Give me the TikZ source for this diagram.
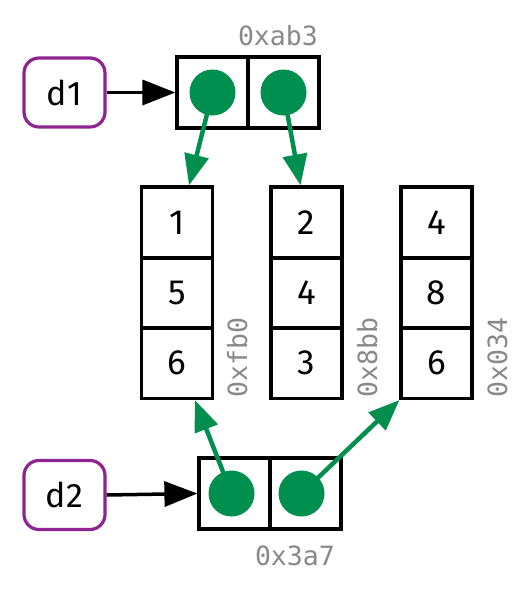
\documentclass[tikz,border=0pt]{standalone}
\usepackage{fontspec}
\setmainfont{Fira Sans}
\newfontfamily\monofont{DejaVu Sans Mono}
\usetikzlibrary{arrows.meta,calc}
\definecolor{grn}{RGB}{0,143,78}
\definecolor{purp}{RGB}{142,36,145}
\definecolor{addr}{RGB}{136,136,136}
\tikzset{
  cell/.style={draw=black, line width=3.2pt, minimum size=71pt, inner sep=0pt, font=\fontsize{35}{35}\selectfont},
  namebox/.style={draw=purp, line width=3.2pt, rounded corners=15pt, minimum width=81pt, minimum height=69pt, inner sep=0pt, font=\fontsize{34}{34}\selectfont},
  dot/.style={circle, fill=grn, minimum size=46pt, inner sep=0pt},
  addrlbl/.style={text=addr, inner sep=0pt, font=\monofont\fontsize{26.5}{26.5}\selectfont},
  blackarrow/.style={line width=3.5pt, -{Triangle[length=33pt,width=25pt]}},
  greenarrow/.style={draw=grn, line width=4.5pt, -{Triangle[length=31pt,width=24pt]}, color=grn},
}
\begin{document}
\begin{tikzpicture}[x=1pt,y=-1pt]
\useasboundingbox (0,0) rectangle (531,590);
% top list
\node[cell] (t1) at (212.5,92.5) {};
\node[cell] (t2) at (283.5,92.5) {};
\node[addrlbl, anchor=base east] (la) at (318,45) {0xab3};
% bottom list
\node[cell] (b1) at (234.5,493.5) {};
\node[cell] (b2) at (305.5,493.5) {};
\node[addrlbl, anchor=base east] (lb) at (335,565) {0x3a7};
% vectors
\node[cell] (a1) at (177,222.5) {1};
\node[cell] (a2) at (177,293) {5};
\node[cell] (a3) at (177,363) {6};
\node[cell] (c1) at (306.5,222.5) {2};
\node[cell] (c2) at (306.5,293) {4};
\node[cell] (c3) at (306.5,363) {3};
\node[cell] (e1) at (436.5,222.5) {4};
\node[cell] (e2) at (436.5,293) {8};
\node[cell] (e3) at (436.5,363) {6};
\node[addrlbl, rotate=90, anchor=base west] (l1) at (247,398) {0xfb0};
\node[addrlbl, rotate=90, anchor=base west] (l2) at (377,398) {0x8bb};
\node[addrlbl, rotate=90, anchor=base west] (l3) at (507,398) {0x034};
% names
\node[namebox] (d1) at (64.5,92.5) {d1};
\node[namebox] (d2) at (64.5,495) {d2};
\draw[blackarrow] (d1.east) -- (t1.west);
\draw[blackarrow] (d2.east) -- (b1.west);
% green pointers
\draw[greenarrow] (t1.center) -- ([xshift=12pt]a1.north);
\draw[greenarrow] (t2.center) -- ([xshift=-6pt]c1.north);
\draw[greenarrow] ([xshift=-3pt]b1.center) -- ([xshift=18pt]a3.south);
\draw[greenarrow] ([xshift=-4pt]b2.center) -- (e3.south west);
% dots
\node[dot] (p1) at (t1.center) {};
\node[dot] (p2) at (t2.center) {};
\node[dot] (p3) at ([xshift=-3pt]b1.center) {};
\node[dot] (p4) at ([xshift=-4pt]b2.center) {};
\end{tikzpicture}
\end{document}
